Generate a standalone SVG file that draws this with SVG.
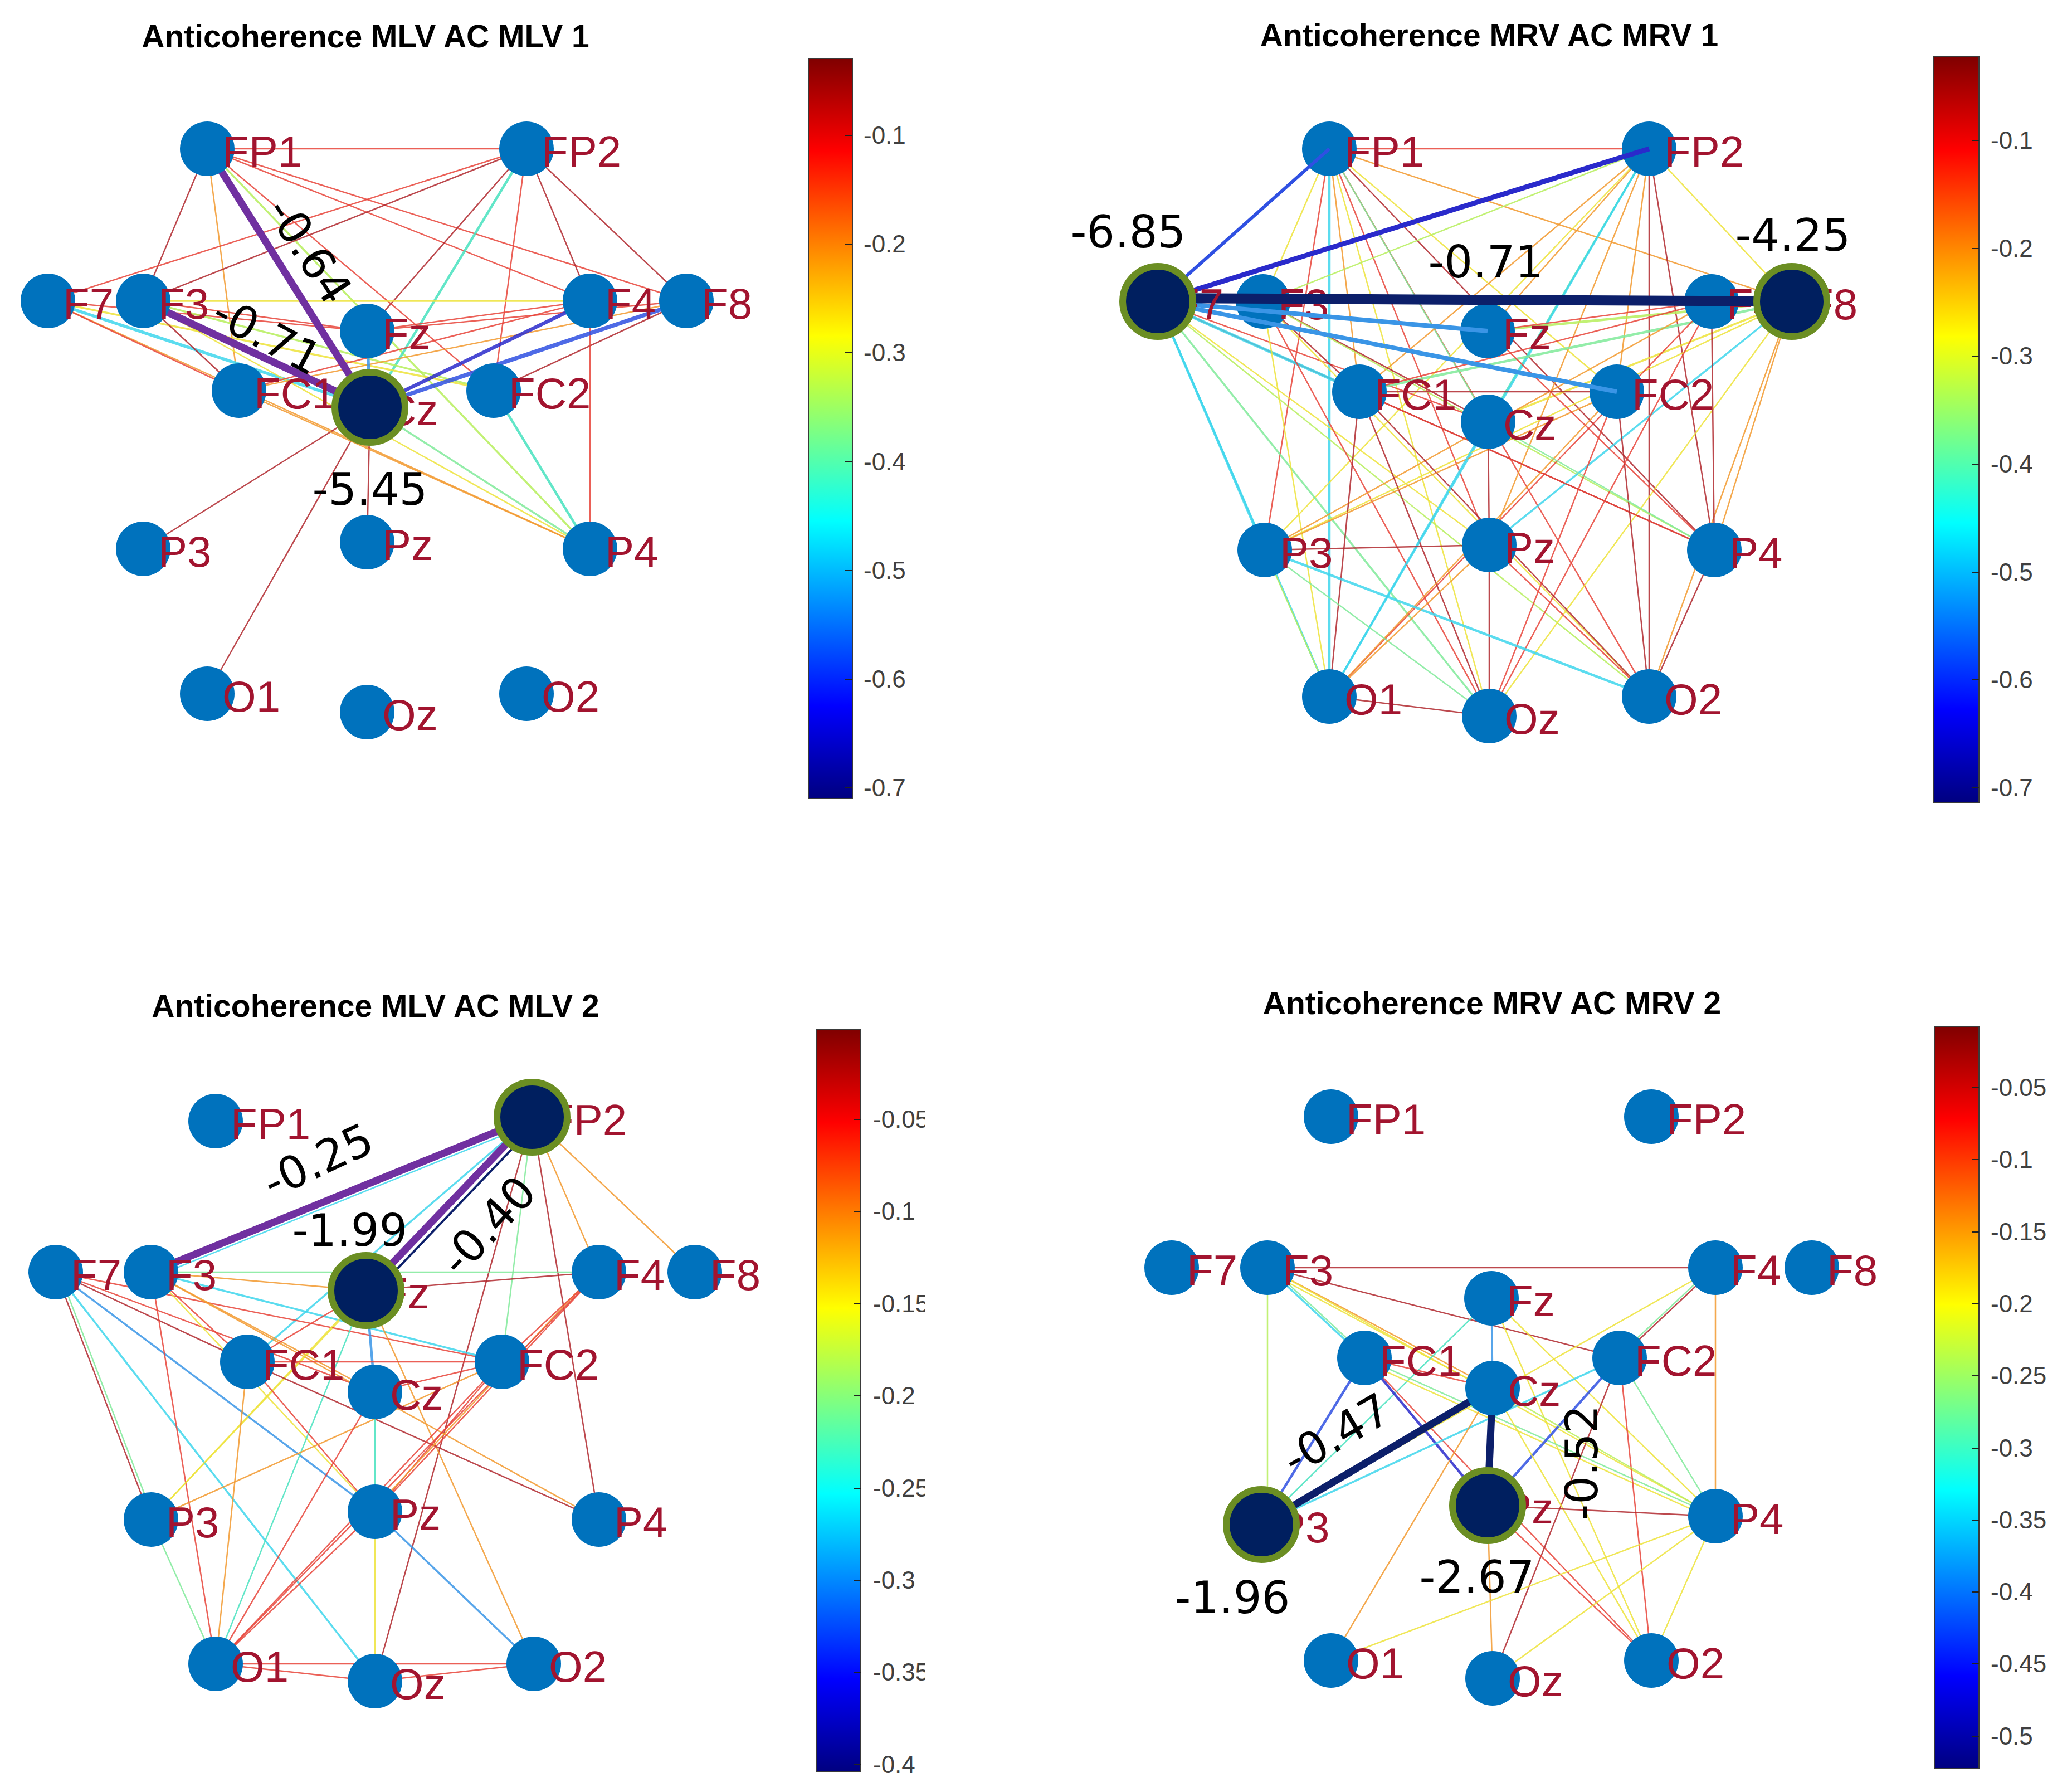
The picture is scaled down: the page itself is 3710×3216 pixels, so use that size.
<svg xmlns="http://www.w3.org/2000/svg" width="3710" height="3216" viewBox="0 0 3710 3216">
<defs>
<linearGradient id="jet" x1="0" y1="0" x2="0" y2="1">
<stop offset="0" stop-color="#800000"/><stop offset="0.125" stop-color="#FF0000"/><stop offset="0.25" stop-color="#FF8000"/><stop offset="0.375" stop-color="#FFFF00"/><stop offset="0.5" stop-color="#80FF80"/><stop offset="0.625" stop-color="#00FFFF"/><stop offset="0.75" stop-color="#0080FF"/><stop offset="0.875" stop-color="#0000FF"/><stop offset="1" stop-color="#000080"/>
</linearGradient>
<clipPath id="clip3"><rect x="1400" y="1800" width="261" height="1416"/></clipPath>
</defs>
<style>
.edges line{stroke-width:2.5px;stroke-opacity:0.85;stroke-linecap:round}
.edges .w3{stroke-width:3.5px}.edges .w4{stroke-width:4.5px}.edges .w5{stroke-width:5.5px}.edges .w6{stroke-width:6.5px}.edges .w7{stroke-width:7.5px}
.thick line{stroke-opacity:1;stroke-linecap:butt}
.dr{stroke:#B0282E}.rd{stroke:#E8443A}.or{stroke:#F2992E}.ye{stroke:#EDE33A}.yg{stroke:#B6EE5C}.gr{stroke:#80EA9A}.tl{stroke:#46E2BE}.cy{stroke:#3ED6EC}.lb{stroke:#3A95E6}.bl{stroke:#2F50E2}.db{stroke:#2A2ACB}.nv{stroke:#0C1F6A}.pu{stroke:#7030A0}
.node circle{fill:#0072BD}
.node text,.hl text{font-family:"Liberation Sans",Arial,sans-serif;font-size:78px;fill:#A2142F}
.hl circle{fill:#001F5F;stroke:#6B8E23;stroke-width:12px}
.title{font-family:"Liberation Sans",Arial,sans-serif;font-weight:bold;font-size:57px;text-anchor:middle;fill:#000}
.val{font-family:"DejaVu Sans",sans-serif;font-size:80px;fill:#000;text-anchor:middle}
.cbar rect{fill:url(#jet);stroke:#3a3a3a;stroke-width:2px}
.cbar line{stroke:#222;stroke-width:2px}
.cbar text{font-family:"Liberation Sans",Arial,sans-serif;font-size:44px;fill:#404040}
</style>
<rect width="3710" height="3216" fill="#fff"/>

<!-- ================= PANEL 1 ================= -->
<text class="title" x="656" y="85">Anticoherence MLV AC MLV 1</text>
<g id="p1-edges" class="edges">
<line class="rd" x1="372" y1="267" x2="945" y2="267"/>
<line class="dr" x1="372" y1="267" x2="257" y2="540"/>
<line class="or" x1="372" y1="267" x2="429" y2="701"/>
<line class="rd" x1="372" y1="267" x2="1059" y2="540"/>
<line class="rd" x1="372" y1="267" x2="1232" y2="540"/>
<line class="rd" x1="372" y1="267" x2="886" y2="701"/>
<line class="yg w3" x1="372" y1="267" x2="1059" y2="985"/>
<line class="rd" x1="945" y1="267" x2="86" y2="540"/>
<line class="dr" x1="945" y1="267" x2="257" y2="540"/>
<line class="dr" x1="945" y1="267" x2="659" y2="594"/>
<line class="tl w4" x1="945" y1="267" x2="664" y2="731"/>
<line class="rd" x1="945" y1="267" x2="886" y2="701"/>
<line class="dr" x1="945" y1="267" x2="1059" y2="540"/>
<line class="dr" x1="945" y1="267" x2="1232" y2="540"/>
<line class="ye w3" x1="257" y1="540" x2="1059" y2="540"/>
<line class="rd" x1="86" y1="540" x2="659" y2="594"/>
<line class="ye w3" x1="86" y1="540" x2="886" y2="701"/>
<line class="cy w5" x1="86" y1="540" x2="664" y2="731"/>
<line class="or" x1="86" y1="540" x2="1059" y2="985"/>
<line class="rd" x1="86" y1="540" x2="429" y2="701"/>
<line class="rd" x1="257" y1="540" x2="659" y2="594"/>
<line class="yg w3" x1="257" y1="540" x2="886" y2="701"/>
<line class="dr" x1="257" y1="540" x2="429" y2="701"/>
<line class="ye" x1="257" y1="540" x2="1059" y2="985"/>
<line class="or" x1="1232" y1="540" x2="429" y2="701"/>
<line class="rd" x1="1232" y1="540" x2="659" y2="594"/>
<line class="dr" x1="1232" y1="540" x2="886" y2="701"/>
<line class="rd" x1="1059" y1="540" x2="429" y2="701"/>
<line class="rd" x1="1059" y1="540" x2="659" y2="594"/>
<line class="rd" x1="1059" y1="540" x2="1059" y2="985"/>
<line class="tl w4" x1="886" y1="701" x2="1059" y2="985"/>
<line class="dr" x1="664" y1="731" x2="257" y2="985"/>
<line class="dr" x1="664" y1="731" x2="372" y2="1245"/>
<line class="dr" x1="664" y1="731" x2="659" y2="973"/>
<line class="gr w3" x1="664" y1="731" x2="1059" y2="985"/>
<line class="lb w5" x1="659" y1="594" x2="664" y2="731"/>
<line class="or" x1="429" y1="701" x2="1059" y2="985"/>
<line class="db w6" x1="1059" y1="540" x2="664" y2="731"/>
<line class="bl w7" x1="1232" y1="540" x2="664" y2="731"/>
</g>
<g id="p1-edges-strong" class="thick">
<line class="pu" stroke-width="13" x1="372" y1="267" x2="664" y2="731"/>
<line class="pu" stroke-width="13" x1="257" y1="540" x2="664" y2="731"/>
</g>
<g id="p1-FP1" class="node"><circle cx="372" cy="267" r="49"/><text x="399" y="299">FP1</text></g>
<g id="p1-FP2" class="node"><circle cx="945" cy="267" r="49"/><text x="972" y="299">FP2</text></g>
<g id="p1-F7" class="node"><circle cx="86" cy="540" r="49"/><text x="113" y="572">F7</text></g>
<g id="p1-F3" class="node"><circle cx="257" cy="540" r="49"/><text x="284" y="572">F3</text></g>
<g id="p1-Fz" class="node"><circle cx="659" cy="594" r="49"/><text x="686" y="626">Fz</text></g>
<g id="p1-F4" class="node"><circle cx="1059" cy="540" r="49"/><text x="1086" y="572">F4</text></g>
<g id="p1-F8" class="node"><circle cx="1232" cy="540" r="49"/><text x="1259" y="572">F8</text></g>
<g id="p1-FC1" class="node"><circle cx="429" cy="701" r="49"/><text x="456" y="733">FC1</text></g>
<g id="p1-FC2" class="node"><circle cx="886" cy="701" r="49"/><text x="913" y="733">FC2</text></g>
<g id="p1-P3" class="node"><circle cx="257" cy="985" r="49"/><text x="284" y="1017">P3</text></g>
<g id="p1-Pz" class="node"><circle cx="659" cy="973" r="49"/><text x="686" y="1005">Pz</text></g>
<g id="p1-P4" class="node"><circle cx="1059" cy="985" r="49"/><text x="1086" y="1017">P4</text></g>
<g id="p1-O1" class="node"><circle cx="372" cy="1245" r="49"/><text x="399" y="1277">O1</text></g>
<g id="p1-Oz" class="node"><circle cx="659" cy="1278" r="49"/><text x="686" y="1310">Oz</text></g>
<g id="p1-O2" class="node"><circle cx="945" cy="1245" r="49"/><text x="972" y="1277">O2</text></g>
<g id="p1-Cz" class="hl"><text x="691" y="763">Cz</text><circle cx="664" cy="731" r="63"/></g>
<g id="p1-values">
<text class="val" x="664" y="906">-5.45</text>
<text class="val" transform="translate(556,449) rotate(57)" x="0" y="29">-0.64</text>
<text class="val" transform="translate(480,601) rotate(28)" x="0" y="29">-0.71</text>
</g>
<g id="p1-colorbar" class="cbar">
<rect x="1451" y="105" width="79" height="1328"/>
<line x1="1517" y1="243" x2="1530" y2="243"/><line x1="1517" y1="438" x2="1530" y2="438"/><line x1="1517" y1="633" x2="1530" y2="633"/><line x1="1517" y1="829" x2="1530" y2="829"/><line x1="1517" y1="1024" x2="1530" y2="1024"/><line x1="1517" y1="1219" x2="1530" y2="1219"/><line x1="1517" y1="1414" x2="1530" y2="1414"/>
<text x="1550" y="258">-0.1</text><text x="1550" y="453">-0.2</text><text x="1550" y="648">-0.3</text><text x="1550" y="844">-0.4</text><text x="1550" y="1039">-0.5</text><text x="1550" y="1234">-0.6</text><text x="1550" y="1429">-0.7</text>
</g>

<!-- ================= PANEL 2 ================= -->
<text class="title" x="2673" y="83">Anticoherence MRV AC MRV 1</text>
<g id="p2-edges" class="edges">
<line class="rd" x1="2386" y1="267" x2="2960" y2="267"/>
<line class="cy w4" x1="2386" y1="267" x2="2386" y2="1250"/>
<line class="or" x1="2386" y1="267" x2="3216" y2="541"/>
<line class="ye" x1="2386" y1="267" x2="2902" y2="703"/>
<line class="rd" x1="2386" y1="267" x2="2673" y2="978"/>
<line class="dr" x1="2386" y1="267" x2="3077" y2="987"/>
<line class="rd" x1="2386" y1="267" x2="2960" y2="1250"/>
<line class="gr" x1="2386" y1="267" x2="2671" y2="757"/>
<line class="rd" x1="2386" y1="267" x2="2270" y2="987"/>
<line class="ye" x1="2386" y1="267" x2="2267" y2="541"/>
<line class="or" x1="2386" y1="267" x2="2440" y2="703"/>
<line class="ye" x1="2386" y1="267" x2="2673" y2="1285"/>
<line class="yg" x1="2960" y1="267" x2="2267" y2="541"/>
<line class="or" x1="2960" y1="267" x2="2440" y2="703"/>
<line class="or" x1="2960" y1="267" x2="2670" y2="594"/>
<line class="tl w3" x1="2960" y1="267" x2="2671" y2="757"/>
<line class="cy w3" x1="2960" y1="267" x2="2386" y2="1250"/>
<line class="dr" x1="2960" y1="267" x2="2960" y2="1250"/>
<line class="dr" x1="2960" y1="267" x2="3077" y2="987"/>
<line class="ye" x1="2960" y1="267" x2="2270" y2="987"/>
<line class="or" x1="2960" y1="267" x2="2673" y2="978"/>
<line class="ye" x1="2960" y1="267" x2="3216" y2="541"/>
<line class="or" x1="2960" y1="267" x2="2902" y2="703"/>
<line class="cy w4" x1="2078" y1="541" x2="2270" y2="987"/>
<line class="cy w3" x1="2078" y1="541" x2="2386" y2="1250"/>
<line class="gr w3" x1="2078" y1="541" x2="2673" y2="1285"/>
<line class="ye" x1="2078" y1="541" x2="2673" y2="978"/>
<line class="rd" x1="2078" y1="541" x2="2671" y2="757"/>
<line class="dr" x1="2078" y1="541" x2="3077" y2="987"/>
<line class="yg" x1="2078" y1="541" x2="2960" y2="1250"/>
<line class="cy w5" x1="2078" y1="541" x2="2440" y2="703"/>
<line class="dr" x1="2267" y1="541" x2="2440" y2="703"/>
<line class="dr" x1="2267" y1="541" x2="2671" y2="757"/>
<line class="yg" x1="2267" y1="541" x2="3077" y2="987"/>
<line class="ye" x1="2267" y1="541" x2="2960" y2="1250"/>
<line class="rd" x1="2267" y1="541" x2="2673" y2="1285"/>
<line class="ye" x1="2267" y1="541" x2="2386" y2="1250"/>
<line class="gr w4" x1="3216" y1="541" x2="2440" y2="703"/>
<line class="yg w4" x1="3216" y1="541" x2="2670" y2="594"/>
<line class="ye w3" x1="3216" y1="541" x2="2671" y2="757"/>
<line class="or" x1="3216" y1="541" x2="3077" y2="987"/>
<line class="ye" x1="3216" y1="541" x2="2673" y2="1285"/>
<line class="cy w3" x1="3216" y1="541" x2="2673" y2="978"/>
<line class="or" x1="3216" y1="541" x2="2960" y2="1250"/>
<line class="ye" x1="3216" y1="541" x2="2270" y2="987"/>
<line class="rd" x1="3072" y1="541" x2="2670" y2="594"/>
<line class="rd" x1="3072" y1="541" x2="2440" y2="703"/>
<line class="dr" x1="3072" y1="541" x2="3077" y2="987"/>
<line class="rd" x1="3072" y1="541" x2="2386" y2="1250"/>
<line class="rd" x1="3072" y1="541" x2="2673" y2="1285"/>
<line class="or" x1="3072" y1="541" x2="2270" y2="987"/>
<line class="rd" x1="2440" y1="703" x2="3077" y2="987"/>
<line class="dr" x1="2440" y1="703" x2="2960" y2="1250"/>
<line class="dr" x1="2440" y1="703" x2="2902" y2="703"/>
<line class="dr" x1="2440" y1="703" x2="2673" y2="1285"/>
<line class="dr" x1="2440" y1="703" x2="2386" y2="1250"/>
<line class="or" x1="2902" y1="703" x2="2270" y2="987"/>
<line class="or" x1="2902" y1="703" x2="2386" y2="1250"/>
<line class="rd" x1="2902" y1="703" x2="2673" y2="1285"/>
<line class="dr" x1="2902" y1="703" x2="2960" y2="1250"/>
<line class="cy w3" x1="2671" y1="757" x2="2386" y2="1250"/>
<line class="dr" x1="2671" y1="757" x2="2673" y2="978"/>
<line class="gr" x1="2671" y1="757" x2="3077" y2="987"/>
<line class="dr" x1="2673" y1="978" x2="2673" y2="1285"/>
<line class="dr" x1="2270" y1="987" x2="2673" y2="978"/>
<line class="cy w4" x1="2270" y1="987" x2="2960" y2="1250"/>
<line class="yg" x1="2270" y1="987" x2="2386" y2="1250"/>
<line class="gr" x1="2270" y1="987" x2="2673" y2="1285"/>
<line class="dr" x1="2386" y1="1250" x2="2673" y2="1285"/>
<line class="or" x1="2386" y1="1250" x2="2673" y2="978"/>
<line class="dr" x1="3077" y1="987" x2="2960" y2="1250"/>
<line class="rd" x1="2673" y1="978" x2="2960" y2="1250"/>
<line class="rd" x1="2670" y1="594" x2="3077" y2="987"/>
</g>
<g id="p2-FP1" class="node"><circle cx="2386" cy="267" r="49"/><text x="2413" y="299">FP1</text></g>
<g id="p2-FP2" class="node"><circle cx="2960" cy="267" r="49"/><text x="2987" y="299">FP2</text></g>
<g id="p2-F3" class="node"><circle cx="2267" cy="541" r="49"/><text x="2294" y="573">F3</text></g>
<g id="p2-Fz" class="node"><circle cx="2670" cy="594" r="49"/><text x="2697" y="626">Fz</text></g>
<g id="p2-F4" class="node"><circle cx="3072" cy="541" r="49"/><text x="3099" y="573">F4</text></g>
<g id="p2-FC1" class="node"><circle cx="2440" cy="703" r="49"/><text x="2467" y="735">FC1</text></g>
<g id="p2-Cz" class="node"><circle cx="2671" cy="757" r="49"/><text x="2698" y="789">Cz</text></g>
<g id="p2-FC2" class="node"><circle cx="2902" cy="703" r="49"/><text x="2929" y="735">FC2</text></g>
<g id="p2-P3" class="node"><circle cx="2270" cy="987" r="49"/><text x="2297" y="1019">P3</text></g>
<g id="p2-Pz" class="node"><circle cx="2673" cy="978" r="49"/><text x="2700" y="1010">Pz</text></g>
<g id="p2-P4" class="node"><circle cx="3077" cy="987" r="49"/><text x="3104" y="1019">P4</text></g>
<g id="p2-O1" class="node"><circle cx="2386" cy="1250" r="49"/><text x="2413" y="1282">O1</text></g>
<g id="p2-Oz" class="node"><circle cx="2673" cy="1285" r="49"/><text x="2700" y="1317">Oz</text></g>
<g id="p2-O2" class="node"><circle cx="2960" cy="1250" r="49"/><text x="2987" y="1282">O2</text></g>
<g id="p2-edges-strong" class="thick">
<line class="lb" stroke-width="8" x1="2078" y1="541" x2="2670" y2="594"/>
<line class="lb" stroke-width="8" x1="2078" y1="541" x2="2902" y2="703"/>
<line class="bl" stroke-width="6" x1="2078" y1="541" x2="2386" y2="267"/>
<line class="db" stroke-width="9" x1="2078" y1="541" x2="2960" y2="267"/>
<line class="nv" stroke-width="18" x1="2078" y1="535" x2="3216" y2="541"/>
</g>
<g id="p2-F7" class="hl"><text x="2105" y="573">F7</text><circle cx="2078" cy="541" r="63"/></g>
<g id="p2-F8" class="hl"><text x="3243" y="573">F8</text><circle cx="3216" cy="541" r="63"/></g>
<g id="p2-values">
<text class="val" x="2025" y="444">-6.85</text>
<text class="val" x="3218" y="450">-4.25</text>
<text class="val" x="2667" y="498">-0.71</text>
</g>
<g id="p2-colorbar" class="cbar">
<rect x="3471" y="102" width="81" height="1338"/>
<line x1="3539" y1="252" x2="3552" y2="252"/><line x1="3539" y1="446" x2="3552" y2="446"/><line x1="3539" y1="639" x2="3552" y2="639"/><line x1="3539" y1="833" x2="3552" y2="833"/><line x1="3539" y1="1027" x2="3552" y2="1027"/><line x1="3539" y1="1220" x2="3552" y2="1220"/><line x1="3539" y1="1414" x2="3552" y2="1414"/>
<text x="3573" y="267">-0.1</text><text x="3573" y="461">-0.2</text><text x="3573" y="654">-0.3</text><text x="3573" y="848">-0.4</text><text x="3573" y="1042">-0.5</text><text x="3573" y="1235">-0.6</text><text x="3573" y="1429">-0.7</text>
</g>

<!-- ================= PANEL 3 ================= -->
<text class="title" x="674" y="1825">Anticoherence MLV AC MLV 2</text>
<g id="p3-edges" class="edges">
<line class="cy w3" x1="955" y1="2005" x2="444" y2="2444"/>
<line class="gr" x1="955" y1="2005" x2="901" y2="2444"/>
<line class="ye" x1="955" y1="2005" x2="271" y2="2727"/>
<line class="dr" x1="955" y1="2005" x2="673" y2="3017"/>
<line class="dr" x1="955" y1="2005" x2="1075" y2="2727"/>
<line class="or" x1="955" y1="2005" x2="1075" y2="2283"/>
<line class="or" x1="955" y1="2005" x2="1247" y2="2283"/>
<line class="cy" x1="955" y1="2016" x2="271" y2="2294"/>
<line class="gr" x1="271" y1="2283" x2="1075" y2="2283"/>
<line class="dr" x1="100" y1="2283" x2="444" y2="2444"/>
<line class="rd" x1="100" y1="2283" x2="901" y2="2444"/>
<line class="rd" x1="100" y1="2283" x2="673" y2="2498"/>
<line class="lb w3" x1="100" y1="2283" x2="673" y2="2713"/>
<line class="cy w3" x1="100" y1="2283" x2="673" y2="3017"/>
<line class="dr" x1="100" y1="2283" x2="271" y2="2727"/>
<line class="gr" x1="106" y1="2283" x2="277" y2="2727"/>
<line class="cy w3" x1="271" y1="2283" x2="901" y2="2444"/>
<line class="or" x1="271" y1="2283" x2="657" y2="2316"/>
<line class="or" x1="271" y1="2283" x2="673" y2="2498"/>
<line class="ye" x1="271" y1="2283" x2="673" y2="2713"/>
<line class="rd" x1="271" y1="2283" x2="387" y2="2986"/>
<line class="or" x1="271" y1="2283" x2="1075" y2="2727"/>
<line class="rd" x1="271" y1="2283" x2="444" y2="2444"/>
<line class="dr" x1="657" y1="2316" x2="1075" y2="2283"/>
<line class="rd" x1="657" y1="2316" x2="444" y2="2444"/>
<line class="lb w4" x1="657" y1="2316" x2="673" y2="2498"/>
<line class="tl" x1="657" y1="2316" x2="387" y2="2986"/>
<line class="or" x1="657" y1="2316" x2="958" y2="2986"/>
<line class="ye" x1="657" y1="2316" x2="271" y2="2727"/>
<line class="rd" x1="444" y1="2444" x2="901" y2="2444"/>
<line class="rd" x1="444" y1="2444" x2="673" y2="2713"/>
<line class="or" x1="444" y1="2444" x2="387" y2="2986"/>
<line class="dr" x1="444" y1="2444" x2="1075" y2="2727"/>
<line class="or" x1="901" y1="2444" x2="271" y2="2727"/>
<line class="rd" x1="901" y1="2444" x2="673" y2="2713"/>
<line class="rd" x1="901" y1="2444" x2="387" y2="2986"/>
<line class="rd" x1="901" y1="2444" x2="673" y2="2498"/>
<line class="rd" x1="1075" y1="2283" x2="673" y2="2713"/>
<line class="or" x1="1069" y1="2283" x2="667" y2="2713"/>
<line class="rd" x1="1075" y1="2283" x2="387" y2="2986"/>
<line class="rd" x1="1075" y1="2283" x2="901" y2="2444"/>
<line class="tl" x1="673" y1="2498" x2="673" y2="2713"/>
<line class="lb w3" x1="673" y1="2713" x2="958" y2="2986"/>
<line class="ye" x1="673" y1="2713" x2="673" y2="3017"/>
<line class="rd" x1="673" y1="2713" x2="387" y2="2986"/>
<line class="rd" x1="387" y1="2986" x2="673" y2="3017"/>
<line class="rd" x1="673" y1="3017" x2="958" y2="2986"/>
<line class="rd" x1="387" y1="2986" x2="958" y2="2986"/>
<line class="gr" x1="271" y1="2727" x2="387" y2="2986"/>
<line class="rd" x1="673" y1="2498" x2="387" y2="2986"/>
</g>
<g id="p3-edges-strong" class="thick">
<line class="pu" stroke-width="13" x1="271" y1="2283" x2="955" y2="2005"/>
<line class="pu" stroke-width="13" x1="657" y1="2316" x2="955" y2="2005"/>
<line class="nv" stroke-width="4" x1="669" y1="2323" x2="965" y2="2014"/>
</g>
<g id="p3-FP1" class="node"><circle cx="387" cy="2012" r="49"/><text x="414" y="2044">FP1</text></g>
<g id="p3-F7" class="node"><circle cx="100" cy="2283" r="49"/><text x="127" y="2315">F7</text></g>
<g id="p3-F3" class="node"><circle cx="271" cy="2283" r="49"/><text x="298" y="2315">F3</text></g>
<g id="p3-F4" class="node"><circle cx="1075" cy="2283" r="49"/><text x="1102" y="2315">F4</text></g>
<g id="p3-F8" class="node"><circle cx="1247" cy="2283" r="49"/><text x="1274" y="2315">F8</text></g>
<g id="p3-FC1" class="node"><circle cx="444" cy="2444" r="49"/><text x="471" y="2476">FC1</text></g>
<g id="p3-Cz" class="node"><circle cx="673" cy="2498" r="49"/><text x="700" y="2530">Cz</text></g>
<g id="p3-FC2" class="node"><circle cx="901" cy="2444" r="49"/><text x="928" y="2476">FC2</text></g>
<g id="p3-P3" class="node"><circle cx="271" cy="2727" r="49"/><text x="298" y="2759">P3</text></g>
<g id="p3-Pz" class="node"><circle cx="673" cy="2713" r="49"/><text x="700" y="2745">Pz</text></g>
<g id="p3-P4" class="node"><circle cx="1075" cy="2727" r="49"/><text x="1102" y="2759">P4</text></g>
<g id="p3-O1" class="node"><circle cx="387" cy="2986" r="49"/><text x="414" y="3018">O1</text></g>
<g id="p3-Oz" class="node"><circle cx="673" cy="3017" r="49"/><text x="700" y="3049">Oz</text></g>
<g id="p3-O2" class="node"><circle cx="958" cy="2986" r="49"/><text x="985" y="3018">O2</text></g>
<g id="p3-FP2" class="hl"><text x="982" y="2037">FP2</text><circle cx="955" cy="2005" r="63"/></g>
<g id="p3-Fz" class="hl"><text x="684" y="2348">Fz</text><circle cx="657" cy="2316" r="63"/></g>
<g id="p3-values">
<text class="val" transform="translate(570,2082) rotate(-25)" x="0" y="29">-0.25</text>
<text class="val" x="628" y="2236">-1.99</text>
<text class="val" transform="translate(875,2199) rotate(-47)" x="0" y="29">-0.40</text>
</g>
<g id="p3-colorbar" class="cbar">
<rect x="1466" y="1848" width="79" height="1332"/>
<line x1="1532" y1="2009" x2="1545" y2="2009"/><line x1="1532" y1="2174" x2="1545" y2="2174"/><line x1="1532" y1="2340" x2="1545" y2="2340"/><line x1="1532" y1="2505" x2="1545" y2="2505"/><line x1="1532" y1="2671" x2="1545" y2="2671"/><line x1="1532" y1="2836" x2="1545" y2="2836"/><line x1="1532" y1="3001" x2="1545" y2="3001"/><line x1="1532" y1="3167" x2="1545" y2="3167"/>
<g clip-path="url(#clip3)">
<text x="1567" y="2024">-0.05</text><text x="1567" y="2189">-0.1</text><text x="1567" y="2355">-0.15</text><text x="1567" y="2520">-0.2</text><text x="1567" y="2686">-0.25</text><text x="1567" y="2851">-0.3</text><text x="1567" y="3016">-0.35</text><text x="1567" y="3182">-0.4</text>
</g>
</g>

<!-- ================= PANEL 4 ================= -->
<text class="title" x="2678" y="1820">Anticoherence MRV AC MRV 2</text>
<g id="p4-edges" class="edges">
<line class="dr" x1="2275" y1="2275" x2="3079" y2="2275"/>
<line class="yg" x1="2275" y1="2275" x2="2275" y2="2700"/>
<line class="cy w3" x1="2275" y1="2275" x2="2449" y2="2437"/>
<line class="gr" x1="2281" y1="2275" x2="2455" y2="2437"/>
<line class="or" x1="2275" y1="2275" x2="2679" y2="2491"/>
<line class="ye" x1="2275" y1="2282" x2="2679" y2="2498"/>
<line class="dr" x1="2275" y1="2275" x2="2907" y2="2437"/>
<line class="ye" x1="2275" y1="2275" x2="3079" y2="2721"/>
<line class="or" x1="3079" y1="2275" x2="3079" y2="2721"/>
<line class="dr" x1="3079" y1="2275" x2="2907" y2="2437"/>
<line class="gr" x1="3073" y1="2275" x2="2901" y2="2437"/>
<line class="ye" x1="3079" y1="2275" x2="2264" y2="2736"/>
<line class="lb w3" x1="2677" y1="2330" x2="2679" y2="2491"/>
<line class="tl" x1="2677" y1="2330" x2="2264" y2="2736"/>
<line class="ye" x1="2677" y1="2330" x2="3079" y2="2721"/>
<line class="ye" x1="2677" y1="2330" x2="2964" y2="2980"/>
<line class="bl w4" x1="2449" y1="2437" x2="2264" y2="2736"/>
<line class="db w4" x1="2449" y1="2437" x2="2670" y2="2702"/>
<line class="rd" x1="2449" y1="2437" x2="2679" y2="2491"/>
<line class="gr" x1="2449" y1="2437" x2="3079" y2="2721"/>
<line class="ye" x1="2449" y1="2444" x2="3079" y2="2728"/>
<line class="rd" x1="2449" y1="2437" x2="2964" y2="2980"/>
<line class="bl w4" x1="2907" y1="2437" x2="2670" y2="2702"/>
<line class="cy w3" x1="2907" y1="2437" x2="2264" y2="2736"/>
<line class="gr" x1="2907" y1="2437" x2="3079" y2="2721"/>
<line class="rd" x1="2907" y1="2437" x2="2964" y2="2980"/>
<line class="dr" x1="2907" y1="2437" x2="2679" y2="3012"/>
<line class="or" x1="2679" y1="2491" x2="2389" y2="2980"/>
<line class="ye" x1="2679" y1="2491" x2="2964" y2="2980"/>
<line class="yg" x1="2679" y1="2491" x2="3079" y2="2721"/>
<line class="dr" x1="2670" y1="2702" x2="3079" y2="2721"/>
<line class="rd" x1="2670" y1="2702" x2="2964" y2="2980"/>
<line class="or" x1="2670" y1="2702" x2="2679" y2="3012"/>
<line class="ye" x1="3079" y1="2721" x2="2389" y2="2980"/>
<line class="ye" x1="3079" y1="2721" x2="2679" y2="3012"/>
<line class="ye" x1="3079" y1="2721" x2="2964" y2="2980"/>
</g>
<g id="p4-edges-strong" class="thick">
<line class="nv" stroke-width="13" x1="2264" y1="2736" x2="2679" y2="2491"/>
<line class="nv" stroke-width="13" x1="2670" y1="2702" x2="2679" y2="2491"/>
</g>
<g id="p4-FP1" class="node"><circle cx="2389" cy="2004" r="49"/><text x="2416" y="2036">FP1</text></g>
<g id="p4-FP2" class="node"><circle cx="2964" cy="2004" r="49"/><text x="2991" y="2036">FP2</text></g>
<g id="p4-F7" class="node"><circle cx="2103" cy="2275" r="49"/><text x="2130" y="2307">F7</text></g>
<g id="p4-F3" class="node"><circle cx="2275" cy="2275" r="49"/><text x="2302" y="2307">F3</text></g>
<g id="p4-Fz" class="node"><circle cx="2677" cy="2330" r="49"/><text x="2704" y="2362">Fz</text></g>
<g id="p4-F4" class="node"><circle cx="3079" cy="2275" r="49"/><text x="3106" y="2307">F4</text></g>
<g id="p4-F8" class="node"><circle cx="3252" cy="2275" r="49"/><text x="3279" y="2307">F8</text></g>
<g id="p4-FC1" class="node"><circle cx="2449" cy="2437" r="49"/><text x="2476" y="2469">FC1</text></g>
<g id="p4-Cz" class="node"><circle cx="2679" cy="2491" r="49"/><text x="2706" y="2523">Cz</text></g>
<g id="p4-FC2" class="node"><circle cx="2907" cy="2437" r="49"/><text x="2934" y="2469">FC2</text></g>
<g id="p4-P4" class="node"><circle cx="3079" cy="2721" r="49"/><text x="3106" y="2753">P4</text></g>
<g id="p4-O1" class="node"><circle cx="2389" cy="2980" r="49"/><text x="2416" y="3012">O1</text></g>
<g id="p4-Oz" class="node"><circle cx="2679" cy="3012" r="49"/><text x="2706" y="3044">Oz</text></g>
<g id="p4-O2" class="node"><circle cx="2964" cy="2980" r="49"/><text x="2991" y="3012">O2</text></g>
<g id="p4-P3" class="hl"><text x="2291" y="2768">P3</text><circle cx="2264" cy="2736" r="63"/></g>
<g id="p4-Pz" class="hl"><text x="2697" y="2734">Pz</text><circle cx="2670" cy="2702" r="63"/></g>
<g id="p4-values">
<text class="val" transform="translate(2398,2573) rotate(-30)" x="0" y="29">-0.47</text>
<text class="val" transform="translate(2838,2625) rotate(-90)" x="0" y="29">-0.52</text>
<text class="val" x="2212" y="2895">-1.96</text>
<text class="val" x="2651" y="2858">-2.67</text>
</g>
<g id="p4-colorbar" class="cbar">
<rect x="3472" y="1842" width="80" height="1332"/>
<line x1="3539" y1="1952" x2="3552" y2="1952"/><line x1="3539" y1="2081" x2="3552" y2="2081"/><line x1="3539" y1="2211" x2="3552" y2="2211"/><line x1="3539" y1="2340" x2="3552" y2="2340"/><line x1="3539" y1="2469" x2="3552" y2="2469"/><line x1="3539" y1="2599" x2="3552" y2="2599"/><line x1="3539" y1="2728" x2="3552" y2="2728"/><line x1="3539" y1="2857" x2="3552" y2="2857"/><line x1="3539" y1="2986" x2="3552" y2="2986"/><line x1="3539" y1="3116" x2="3552" y2="3116"/>
<text x="3573" y="1967">-0.05</text><text x="3573" y="2096">-0.1</text><text x="3573" y="2226">-0.15</text><text x="3573" y="2355">-0.2</text><text x="3573" y="2484">-0.25</text><text x="3573" y="2614">-0.3</text><text x="3573" y="2743">-0.35</text><text x="3573" y="2872">-0.4</text><text x="3573" y="3001">-0.45</text><text x="3573" y="3131">-0.5</text>
</g>
</svg>
